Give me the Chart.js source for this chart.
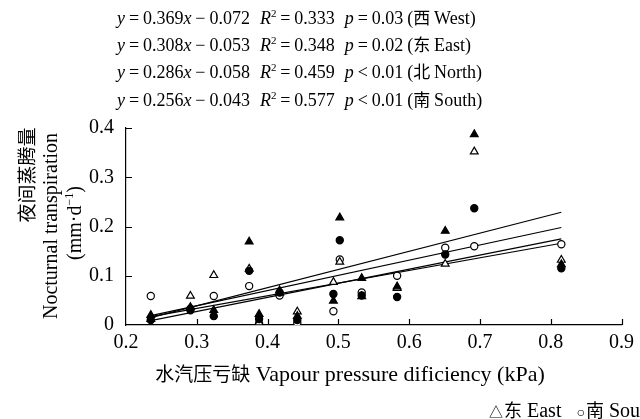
<!DOCTYPE html>
<html>
<head>
<meta charset="utf-8">
<script src="https://cdn.jsdelivr.net/npm/chart.js@4/dist/chart.umd.min.js"></script>
<style>
  body { margin: 0; background: #fff; }
  #wrap { position: relative; width: 640px; height: 419px; overflow: hidden; font-family: 'Liberation Serif', 'Noto Sans CJK SC', serif; color: #000; }
  #chart { position: absolute; left: 0; top: 0; }
  .eq { position: absolute; left: 117px; font-size: 18px; white-space: nowrap; line-height: 1; word-spacing: -0.6px; }
  .eq sup { font-size: 11px; vertical-align: 7px; line-height: 0; }
  .eq .gap { display: inline-block; width: 10px; }
  .cjk { font-family: 'Noto Sans CJK SC', sans-serif; }
  .eq .cjk { font-size: 17px; }
  .ytitle { position: absolute; white-space: nowrap; font-size: 20px; transform: translate(-50%, -50%) rotate(-90deg); }
  #xtitle { position: absolute; left: 350px; top: 373px; transform: translate(-50%, -50%); white-space: nowrap; font-size: 22px; }
  #xtitle .cjk { font-size: 19px; }
  #legend { position: absolute; left: 489px; top: 396px; white-space: nowrap; font-size: 20px; }
  #legend .cjk { font-size: 18px; }
  #legend span.m { font-size: 14px; margin-right: 1px; }
</style>
</head>
<body>
<div id="wrap">
  <canvas id="chart" width="640" height="419"></canvas>
  <div class="eq" style="top:8px"><i>y</i> = 0.369<i>x</i> − 0.072<span class="gap"></span><i>R</i><sup>2</sup> = 0.333<span class="gap"></span><i>p</i> = 0.03 (<span class="cjk">西</span> West)</div>
  <div class="eq" style="top:35px"><i>y</i> = 0.308<i>x</i> − 0.053<span class="gap"></span><i>R</i><sup>2</sup> = 0.348<span class="gap"></span><i>p</i> = 0.02 (<span class="cjk">东</span> East)</div>
  <div class="eq" style="top:62px"><i>y</i> = 0.286<i>x</i> − 0.058<span class="gap"></span><i>R</i><sup>2</sup> = 0.459<span class="gap"></span><i>p</i> &lt; 0.01 (<span class="cjk">北</span> North)</div>
  <div class="eq" style="top:90px"><i>y</i> = 0.256<i>x</i> − 0.043<span class="gap"></span><i>R</i><sup>2</sup> = 0.577<span class="gap"></span><i>p</i> &lt; 0.01 (<span class="cjk">南</span> South)</div>
  <div class="ytitle cjk" style="left:25px; top:175px; font-size:19px">夜间蒸腾量</div>
  <div class="ytitle" style="left:50px; top:226px">Nocturnal transpiration</div>
  <div class="ytitle" style="left:74px; top:223px">(mm·d<sup style="font-size:12px">−1</sup>)</div>
  <div id="xtitle"><span class="cjk">水汽压亏缺</span> Vapour pressure dificiency (kPa)</div>
  <div id="legend"><span class="m">△</span><span class="cjk">东</span> East&nbsp;&nbsp;&nbsp;<span class="m">○</span><span class="cjk">南</span> South&nbsp;&nbsp;&nbsp;<span class="m">▲</span><span class="cjk">西</span> West&nbsp;&nbsp;&nbsp;<span class="m">●</span><span class="cjk">北</span> North</div>
</div>
<script>
// 水汽压亏缺 (kPa)
const vpd = [0.235, 0.291, 0.324, 0.374, 0.388, 0.417, 0.442, 0.493, 0.502, 0.533, 0.583, 0.651, 0.692, 0.815];
// 夜间蒸腾量 (mm/d)
const west  = [0.020, 0.036, 0.030, 0.169, 0.022, 0.070, 0.018, 0.049, 0.218, 0.095, 0.078, 0.191, 0.387, 0.123];
const north = [0.010, 0.030, 0.018, 0.110, 0.012, 0.066, 0.010, 0.063, 0.172, 0.060, 0.057, 0.143, 0.237, 0.115];
const east  = [0.012, 0.059, 0.101, 0.114, 0.005, 0.065, 0.027, 0.087, 0.128, 0.058, 0.075, 0.124, 0.352, 0.132];
const south = [0.059, 0.033, 0.059, 0.079, 0.003, 0.060, 0.004, 0.028, 0.133, 0.066, 0.100, 0.157, 0.160, 0.164];

// fitted lines, read at both ends
const fitX = [0.235, 0.815];
const fitWest  = [0.015, 0.229];
const fitEast  = [0.019, 0.198];
const fitNorth = [0.009, 0.175];
const fitSouth = [0.017, 0.166];

const xTicks = [0.2, 0.3, 0.4, 0.5, 0.6, 0.7, 0.8, 0.9];
const yTicks = [0, 0.1, 0.2, 0.3, 0.4];

function pts(xs, ys) {
  return xs.map((x, i) => ({ x: x, y: ys[i] }));
}

function scatterSet(label, ys, style, filled) {
  return {
    type: 'scatter',
    label: label,
    data: pts(vpd, ys),
    pointStyle: style,
    pointRadius: style === 'triangle' ? 4.5 : 3.6,
    pointBackgroundColor: filled ? '#000' : '#fff',
    pointBorderColor: '#000',
    pointBorderWidth: 1.2,
    order: filled ? 1 : 2
  };
}

function lineSet(label, ys) {
  return {
    type: 'line',
    label: label,
    data: pts(fitX, ys),
    borderColor: '#000',
    borderWidth: 1.2,
    pointRadius: 0,
    fill: false,
    order: 3
  };
}

// small inward tick marks
const innerTicks = {
  id: 'innerTicks',
  afterDatasetsDraw(chart) {
    const ctx = chart.ctx;
    const xs = chart.scales.x;
    const ys = chart.scales.y;
    ctx.save();
    ctx.strokeStyle = '#000';
    ctx.lineWidth = 1.2;
    ctx.beginPath();
    xTicks.slice(1).forEach(v => {
      const px = Math.round(xs.getPixelForValue(v)) + 0.5;
      ctx.moveTo(px, ys.bottom);
      ctx.lineTo(px, ys.bottom - 6);
    });
    yTicks.slice(1).forEach(v => {
      const py = Math.round(ys.getPixelForValue(v)) + 0.5;
      ctx.moveTo(xs.left, py);
      ctx.lineTo(xs.left + 6, py);
    });
    ctx.stroke();
    ctx.restore();
  }
};

const tickFont = { family: "'Liberation Serif', serif", size: 20 };

new Chart(document.getElementById('chart'), {
  data: {
    datasets: [
      scatterSet('西 West', west, 'triangle', true),
      scatterSet('北 North', north, 'circle', true),
      scatterSet('东 East', east, 'triangle', false),
      scatterSet('南 South', south, 'circle', false),
      lineSet('fit West', fitWest),
      lineSet('fit East', fitEast),
      lineSet('fit North', fitNorth),
      lineSet('fit South', fitSouth)
    ]
  },
  options: {
    responsive: false,
    animation: false,
    layout: { padding: { left: 0, right: 14, top: 128, bottom: 64 } },
    plugins: { legend: { display: false }, tooltip: { enabled: false } },
    scales: {
      x: {
        type: 'linear',
        min: 0.2,
        max: 0.9,
        afterBuildTicks: s => { s.ticks = xTicks.map(v => ({ value: v })); },
        afterFit: s => { s.height = 30; },
        grid: { display: false, drawTicks: false },
        border: { display: true, color: '#000', width: 1.2 },
        ticks: { color: '#000', font: tickFont, padding: 6, maxRotation: 0, callback: v => v.toFixed(1) }
      },
      y: {
        type: 'linear',
        min: 0,
        max: 0.4,
        afterBuildTicks: s => { s.ticks = yTicks.map(v => ({ value: v })); },
        afterFit: s => { s.width = 126; },
        grid: { display: false, drawTicks: false },
        border: { display: true, color: '#000', width: 1.2 },
        ticks: { color: '#000', font: tickFont, padding: 12, callback: v => v === 0 ? '0' : v.toFixed(1) }
      }
    }
  },
  plugins: [innerTicks]
});
</script>
</body>
</html>
